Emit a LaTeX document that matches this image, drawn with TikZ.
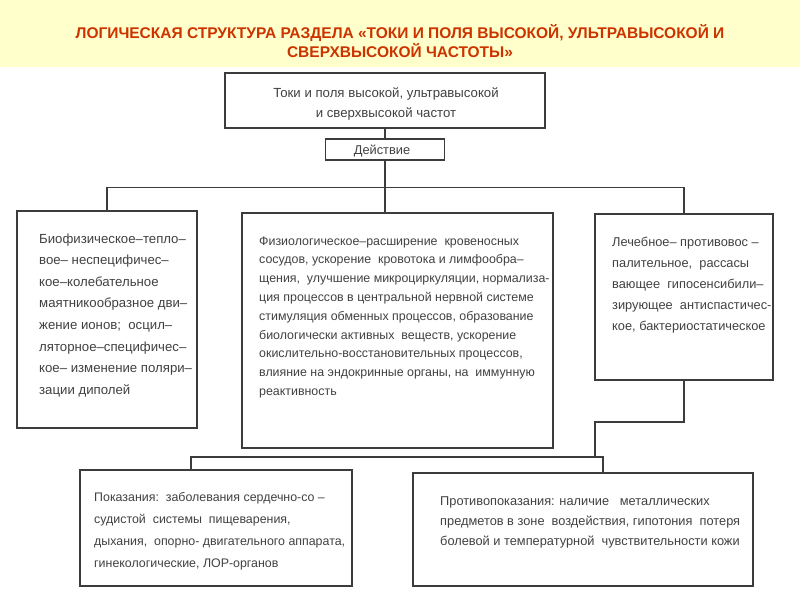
\documentclass[tikz,border=0pt]{standalone}
\usepackage{fontspec}
\setmainfont{Liberation Sans}
\definecolor{banner}{RGB}{255,255,204}
\definecolor{titlered}{RGB}{204,51,0}
\definecolor{ink}{RGB}{60,60,60}
\definecolor{txtc}{RGB}{65,65,65}
\tikzset{
  titletext/.style={font=\fontsize{15.5}{17}\selectfont\bfseries, text=titlered, inner sep=0pt},
  boxnode/.style={draw=ink, line width=1.5pt, rectangle, inner sep=0pt},
  conn/.style={draw=ink, line width=1.2pt},
  txt/.style={font=\fontsize{12.8}{14}\selectfont, text=txtc, inner sep=0pt},
  smalltxt/.style={font=\fontsize{12.4}{14}\selectfont, text=txtc, inner sep=0pt},
  bigtxt/.style={font=\fontsize{13.2}{15}\selectfont, text=txtc, inner sep=0pt}
}
\begin{document}
\begin{tikzpicture}[x=1pt,y=-1pt]
\useasboundingbox (0,0) rectangle (800,600);
\fill[white] (0,0) rectangle (800,600);
\fill[banner] (0,0) rectangle (800,67);
\node[titletext, anchor=base] (t1) at (400,38) {ЛОГИЧЕСКАЯ СТРУКТУРА РАЗДЕЛА «ТОКИ И ПОЛЯ ВЫСОКОЙ, УЛЬТРАВЫСОКОЙ И};
\node[titletext, anchor=base] (t2) at (400,57) {СВЕРХВЫСОКОЙ ЧАСТОТЫ»};

% boxes
\node[boxnode, minimum width=320pt, minimum height=55pt] (top) at (385,100.5) {};
\node[boxnode, minimum width=119pt, minimum height=21pt] (act) at (385,149.5) {};
\node[boxnode, minimum width=180pt, minimum height=217pt] (bio) at (107,319.5) {};
\node[boxnode, minimum width=311pt, minimum height=235pt] (phys) at (397.5,330.5) {};
\node[boxnode, minimum width=178pt, minimum height=166pt] (treat) at (684,297) {};
\node[boxnode, minimum width=272pt, minimum height=116pt] (ind) at (216,528) {};
\node[boxnode, minimum width=340pt, minimum height=113pt] (contra) at (583,529.5) {};

% connectors
\draw[conn] (top.south) -- (act.north);
\draw[conn] (act.south) -- (act.south |- phys.north);
\draw[conn] (bio.north) -- ++(0,-23) -| (treat.north);
\coordinate (j0) at (595,422);
\coordinate (j1) at (595,457);
\coordinate (xl) at (191,0);
\coordinate (xr) at (603,0);
\draw[conn] (treat.south) |- (j0) -- (j1);
\draw[conn] (xl |- ind.north) |- (xr |- j1) -- (xr |- contra.north);

% texts
\node[bigtxt, anchor=base] (top1) at (386,97) {Токи и поля высокой, ультравысокой};
\node[bigtxt, anchor=base] (top2) at (386,117) {и сверхвысокой частот};
\node[txt, anchor=base] (act1) at (382,154) {Действие};

\foreach \t [count=\i] in {Биофизическое–тепло–, вое– неспецифичес–, кое–колебательное, маятникообразное дви–, {жение ионов;\ \ осцил–}, ляторное–специфичес–, кое– изменение поляри–, зации диполей}
  \node[bigtxt, anchor=base west] (bio\i) at (39,{243+(\i-1)*21.6}) {\t};

\foreach \t [count=\i] in {{Физиологическое–расширение\ \ кровеносных}, {сосудов, ускорение\ \ кровотока и лимфообра–}, {щения,\ \ улучшение микроциркуляции, нормализа-}, ция процессов в центральной нервной системе, {стимуляция обменных процессов, образование}, {биологически активных\ \ веществ, ускорение}, {окислительно-восстановительных процессов,}, {влияние на эндокринные органы, на\ \ иммунную}, реактивность}
  \node[smalltxt, anchor=base west] (phys\i) at (259,{245+(\i-1)*18.8}) {\t};

\foreach \t [count=\i] in {Лечебное– противовос –, {палительное,\ \ рассасы}, вающее\ \ гипосенсибили–, зирующее\ \ антиспастичес-, {кое, бактериостатическое}}
  \node[txt, anchor=base west] (treat\i) at (612,{246+(\i-1)*21}) {\t};

\foreach \t [count=\i] in {Показания:\ \ заболевания сердечно-со –, {судистой\ \ системы\ \ пищеварения,}, {дыхания,\ \ опорно- двигательного аппарата,}, {гинекологические, ЛОР-органов}}
  \node[smalltxt, anchor=base west] (ind\i) at (94,{501+(\i-1)*22}) {\t};

\foreach \t [count=\i] in {Противопоказания: наличие\ \ \ металлических, {предметов в зоне\ \ воздействия, гипотония\ \ потеря}, болевой и температурной\ \ чувствительности кожи}
  \node[txt, anchor=base west] (contra\i) at (440,{505+(\i-1)*20}) {\t};
\end{tikzpicture}
\end{document}
